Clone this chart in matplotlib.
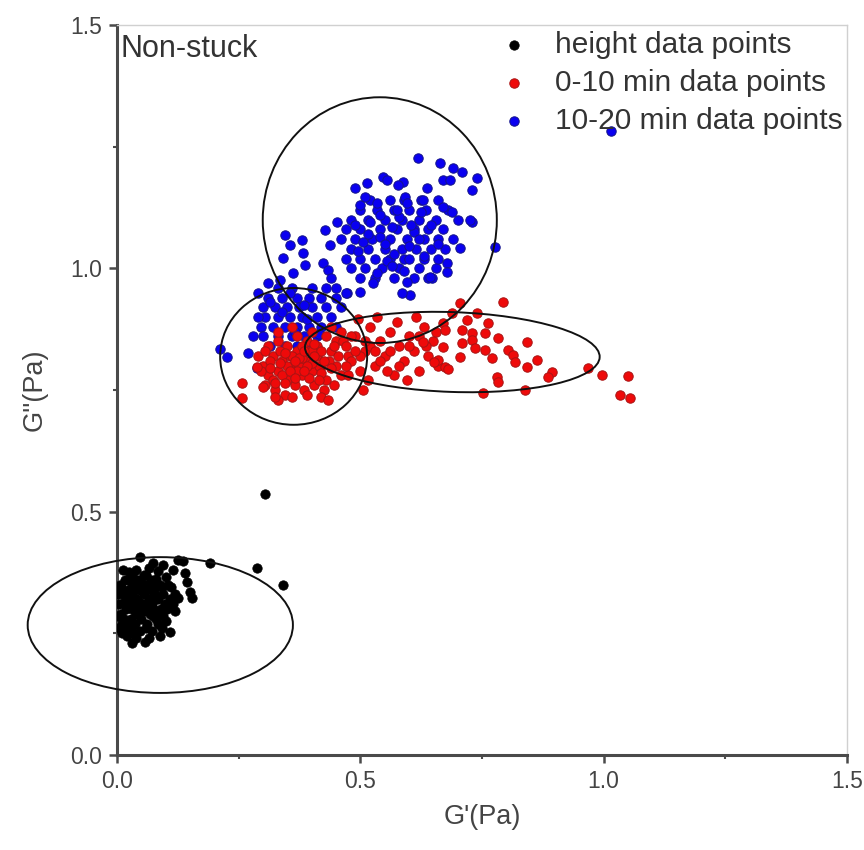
import numpy as np
import matplotlib
matplotlib.use("Agg")
import matplotlib.pyplot as plt
from matplotlib.patches import Ellipse

plt.rcParams['font.family'] = ['Liberation Sans', 'DejaVu Sans']

# height measurements: G' and G'' in Pa
black_gp = [0.047, 0.074, 0.095, 0.125, 0.135, 0.191, 0.288, 0.341, 0.140, 0.144, 0.150, 0.154,
            0.125, 0.109, 0.058, 0.304, 0.065, 0.085, 0.060, 0.080, 0.100, 0.115, 0.105, 0.120,
            0.005, 0.010, 0.008, 0.004, 0.012, 0.006, 0.015, 0.018, 0.020, 0.022, 0.016, 0.025,
            0.028, 0.030, 0.032, 0.027, 0.035, 0.030, 0.038, 0.040, 0.042, 0.045, 0.048, 0.043,
            0.050, 0.053, 0.055, 0.058, 0.060, 0.062, 0.065, 0.068, 0.070, 0.072, 0.075, 0.078,
            0.080, 0.085, 0.088, 0.090, 0.095, 0.098, 0.102, 0.108, 0.010, 0.020, 0.035, 0.048,
            0.012, 0.024, 0.040, 0.055, 0.070, 0.015, 0.025, 0.035, 0.045, 0.055, 0.065, 0.075,
            0.085, 0.092, 0.100, 0.060, 0.072, 0.082, 0.002, 0.003, 0.008, 0.018, 0.028, 0.038,
            0.050, 0.062, 0.078, 0.092, 0.110, 0.115, 0.120, 0.095, 0.040, 0.030, 0.066, 0.088]
black_gpp = [0.407, 0.394, 0.390, 0.400, 0.398, 0.395, 0.384, 0.349, 0.374, 0.356, 0.335, 0.322,
             0.322, 0.253, 0.232, 0.536, 0.385, 0.378, 0.370, 0.362, 0.365, 0.380, 0.350, 0.330,
             0.260, 0.270, 0.290, 0.310, 0.330, 0.350, 0.280, 0.300, 0.320, 0.340, 0.360, 0.260,
             0.280, 0.300, 0.310, 0.330, 0.350, 0.370, 0.270, 0.290, 0.320, 0.300, 0.340, 0.360,
             0.280, 0.310, 0.330, 0.300, 0.350, 0.270, 0.320, 0.290, 0.340, 0.310, 0.300, 0.330,
             0.280, 0.320, 0.350, 0.300, 0.330, 0.310, 0.300, 0.320, 0.250, 0.245, 0.250, 0.255,
             0.380, 0.375, 0.380, 0.370, 0.360, 0.315, 0.305, 0.320, 0.315, 0.295, 0.305, 0.285,
             0.270, 0.260, 0.275, 0.260, 0.255, 0.295, 0.285, 0.330, 0.345, 0.265, 0.355, 0.340,
             0.355, 0.345, 0.345, 0.345, 0.345, 0.310, 0.295, 0.285, 0.240, 0.230, 0.240, 0.245]

# 0-10 min measurements
red_gp = [0.30, 0.31, 0.32, 0.33, 0.34, 0.35, 0.36, 0.37, 0.38, 0.39, 0.40, 0.41, 0.42, 0.43, 0.44,
          0.45, 0.46, 0.305, 0.325, 0.345, 0.365, 0.385, 0.405, 0.425, 0.445, 0.31, 0.33, 0.35,
          0.37, 0.39, 0.41, 0.43, 0.45, 0.29, 0.295, 0.315, 0.335, 0.355, 0.375, 0.395, 0.415,
          0.435, 0.455, 0.32, 0.34, 0.36, 0.38, 0.40, 0.42, 0.44, 0.35, 0.37, 0.39, 0.36, 0.38,
          0.40, 0.42, 0.33, 0.36, 0.39, 0.42, 0.36, 0.40, 0.44, 0.33,
          0.257, 0.300, 0.325, 0.434, 0.288, 0.505, 0.257,
          0.315, 0.335, 0.355, 0.375, 0.395, 0.415, 0.345, 0.365, 0.385, 0.405, 0.325, 0.345,
          0.365, 0.385, 0.405, 0.425, 0.305, 0.445, 0.465, 0.475,
          0.47, 0.48, 0.49, 0.50, 0.51, 0.52, 0.53, 0.54, 0.55, 0.56, 0.57, 0.58, 0.59, 0.60,
          0.61, 0.62, 0.63, 0.64, 0.65, 0.66, 0.475, 0.495, 0.515, 0.535, 0.555, 0.575, 0.595,
          0.615, 0.635, 0.655, 0.48, 0.50, 0.52, 0.54, 0.56, 0.58, 0.60, 0.62, 0.46, 0.47, 0.49,
          0.51, 0.53,
          0.705, 0.793, 0.688, 0.740, 0.670, 0.719, 0.762, 0.674, 0.709, 0.729, 0.756, 0.783,
          0.629, 0.729, 0.709, 0.842, 0.670, 0.736, 0.756, 0.803, 0.814, 0.770, 0.705, 0.660,
          0.652, 0.674, 0.681, 0.818, 0.863, 0.842, 0.894, 0.886, 0.781, 0.783, 0.968, 0.997,
          1.050, 1.034, 1.054, 0.752, 0.838]
red_gpp = [0.80, 0.78, 0.82, 0.79, 0.81, 0.77, 0.80, 0.83, 0.78, 0.81, 0.79, 0.82, 0.80, 0.77, 0.83,
           0.80, 0.78, 0.76, 0.75, 0.74, 0.76, 0.75, 0.76, 0.75, 0.76, 0.84, 0.85, 0.84,
           0.86, 0.85, 0.84, 0.86, 0.85, 0.82, 0.79, 0.81, 0.83, 0.82, 0.80, 0.83, 0.80,
           0.81, 0.82, 0.77, 0.78, 0.79, 0.815, 0.805, 0.785, 0.795, 0.80, 0.79, 0.80, 0.82, 0.84,
           0.83, 0.83, 0.73, 0.735, 0.74, 0.735, 0.88, 0.87, 0.88, 0.87,
           0.734, 0.756, 0.736, 0.729, 0.797, 0.750, 0.765,
           0.795, 0.805, 0.79, 0.815, 0.775, 0.77, 0.765, 0.775, 0.79, 0.82, 0.765, 0.825,
           0.81, 0.83, 0.845, 0.81, 0.83, 0.84, 0.85, 0.82,
           0.84, 0.81, 0.86, 0.79, 0.83, 0.88, 0.80, 0.85, 0.82, 0.87, 0.78, 0.84, 0.81, 0.86,
           0.83, 0.79, 0.88, 0.82, 0.85, 0.80, 0.78, 0.895, 0.77, 0.90, 0.79, 0.89, 0.77,
           0.90, 0.84, 0.87, 0.86, 0.82, 0.84, 0.81, 0.83, 0.80, 0.84, 0.86, 0.87, 0.80, 0.83,
           0.85, 0.83,
           0.929, 0.931, 0.908, 0.908, 0.888, 0.894, 0.888, 0.873, 0.873, 0.867, 0.867, 0.857,
           0.849, 0.853, 0.846, 0.849, 0.838, 0.836, 0.832, 0.832, 0.822, 0.816, 0.818, 0.812,
           0.808, 0.797, 0.794, 0.808, 0.812, 0.797, 0.787, 0.777, 0.777, 0.767, 0.795, 0.781,
           0.779, 0.740, 0.733, 0.744, 0.750]

# 10-20 min measurements
blue_gp = [0.50, 0.53, 0.57, 0.61, 0.64,
           0.48, 0.51, 0.545, 0.58, 0.62, 0.655,
           0.47, 0.50, 0.53, 0.56, 0.59, 0.63, 0.66,
           0.48, 0.515, 0.55, 0.585, 0.615, 0.645, 0.675,
           0.46, 0.49, 0.525, 0.56, 0.595, 0.63, 0.66, 0.69,
           0.47, 0.50, 0.54, 0.575, 0.61, 0.64, 0.67,
           0.48, 0.515, 0.55, 0.585, 0.62, 0.655, 0.70,
           0.50, 0.535, 0.57, 0.60, 0.635, 0.68,
           0.52, 0.56, 0.59, 0.625, 0.66,
           0.495, 0.54, 0.565, 0.60, 0.63, 0.52, 0.58, 0.61, 0.555, 0.645, 0.505, 0.59, 0.535,
           0.57, 0.62, 0.515, 0.55, 0.605, 0.575, 0.54, 0.625, 0.49, 0.66, 0.565, 0.60,
           0.618, 0.664, 0.690, 0.709, 0.740, 0.547, 0.555, 0.588, 0.577, 0.514, 0.489, 0.637,
           0.670, 0.684, 0.729, 0.510, 0.592, 0.534, 0.596, 0.629, 0.670, 0.688, 0.499, 0.452,
           0.729, 0.427, 0.345, 0.380, 0.355, 0.438, 0.341, 0.382, 0.423, 0.386, 0.434, 0.362,
           0.705, 0.678, 0.647, 0.596, 0.602, 0.586, 0.526, 0.473, 0.499, 0.777, 0.678, 0.725,
           0.643, 1.015,
           0.33, 0.36, 0.40, 0.43,
           0.31, 0.34, 0.37, 0.395, 0.42, 0.45,
           0.30, 0.325, 0.35, 0.375, 0.40, 0.43, 0.46,
           0.305, 0.33, 0.355, 0.38, 0.41, 0.44,
           0.295, 0.32, 0.345, 0.37, 0.395, 0.42, 0.45,
           0.30, 0.33, 0.36, 0.385, 0.41,
           0.315, 0.345, 0.37, 0.40,
           0.315, 0.34, 0.365, 0.39, 0.415, 0.355, 0.385, 0.335,
           0.212, 0.226, 0.269, 0.288, 0.28, 0.29, 0.45, 0.47, 0.44, 0.31, 0.29]
blue_gpp = [0.98, 0.98, 0.98, 0.98, 0.98,
            1.00, 1.00, 1.00, 1.00, 1.00, 1.00,
            1.02, 1.02, 1.02, 1.02, 1.02, 1.02, 1.02,
            1.04, 1.04, 1.04, 1.04, 1.04, 1.04, 1.04,
            1.06, 1.06, 1.06, 1.06, 1.06, 1.06, 1.06, 1.06,
            1.08, 1.08, 1.08, 1.08, 1.08, 1.08, 1.08,
            1.10, 1.10, 1.10, 1.10, 1.10, 1.10, 1.10,
            1.12, 1.12, 1.12, 1.12, 1.12, 1.12,
            1.14, 1.14, 1.14, 1.14, 1.14,
            1.035, 1.065, 1.085, 1.045, 1.025, 1.095, 1.105, 1.075, 1.015, 1.09, 1.055, 0.995, 0.99,
            1.03, 1.06, 1.07, 1.05, 1.09, 1.12, 1.11, 1.115, 1.09, 1.05, 1.005, 1.02,
            1.227, 1.216, 1.206, 1.198, 1.186, 1.188, 1.181, 1.177, 1.171, 1.175, 1.165, 1.165,
            1.181, 1.181, 1.161, 1.147, 1.147, 1.134, 1.134, 1.140, 1.126, 1.116, 1.130, 1.095,
            1.095, 1.079, 1.068, 1.058, 1.048, 1.048, 1.021, 1.031, 1.011, 1.007, 0.997, 0.990,
            1.042, 1.011, 0.980, 0.972, 0.945, 0.949, 0.970, 0.949, 0.951, 1.044, 0.992, 1.099,
            0.982, 1.282,
            0.96, 0.96, 0.96, 0.96,
            0.94, 0.94, 0.94, 0.94, 0.94, 0.94,
            0.92, 0.92, 0.92, 0.92, 0.92, 0.92, 0.92,
            0.90, 0.90, 0.90, 0.90, 0.90, 0.90,
            0.88, 0.88, 0.88, 0.88, 0.88, 0.88, 0.88,
            0.86, 0.86, 0.86, 0.86, 0.86,
            0.84, 0.84, 0.84, 0.84,
            0.93, 0.91, 0.87, 0.895, 0.865, 0.95, 0.925, 0.975,
            0.834, 0.818, 0.826, 0.795, 0.86, 0.90, 0.96, 0.95, 0.98, 0.97, 0.95]

# grouping ellipses: centre G', centre G'', width, height, angle
ell_cx = [0.089, 0.363, 0.689, 0.540]
ell_cy = [0.267, 0.819, 0.828, 1.099]
ell_w = [0.545, 0.302, 0.606, 0.481]
ell_h = [0.279, 0.281, 0.164, 0.505]
ell_ang = [0, 0, -2, 0]

fig = plt.figure(figsize=(8.64, 8.5), dpi=100)
ax = fig.add_axes([0.1354, 0.1118, 0.8449, 0.8588])

ms = 46
h_black = ax.scatter(black_gp, black_gpp, s=ms, c='black', edgecolors='black', lw=0.5,
                     label='height data points', zorder=3)
h_blue = ax.scatter(blue_gp, blue_gpp, s=ms, c='#0a00f0', edgecolors='#14148a', lw=0.7,
                    label='10-20 min data points', zorder=3)
h_red = ax.scatter(red_gp, red_gpp, s=ms, c='#ee0a0a', edgecolors='#a81414', lw=0.7,
                   label='0-10 min data points', zorder=3)

for cx, cy, w, h, a in zip(ell_cx, ell_cy, ell_w, ell_h, ell_ang):
    ax.add_patch(Ellipse((cx, cy), w, h, angle=a, fill=False, ec='#111111', lw=1.4,
                         clip_on=False, zorder=4))

ax.set_xlim(0, 1.5)
ax.set_ylim(0, 1.5)
ax.set_xticks([0, 0.5, 1.0, 1.5])
ax.set_yticks([0, 0.5, 1.0, 1.5])
ax.set_xticks([0.25, 0.75, 1.25], minor=True)
ax.set_yticks([0.25, 0.75, 1.25], minor=True)
ax.xaxis.set_major_formatter(matplotlib.ticker.FormatStrFormatter('%.1f'))
ax.yaxis.set_major_formatter(matplotlib.ticker.FormatStrFormatter('%.1f'))

for side in ['left', 'bottom']:
    ax.spines[side].set_linewidth(2.2)
    ax.spines[side].set_color('#4a4a4a')
for side in ['top', 'right']:
    ax.spines[side].set_linewidth(1.0)
    ax.spines[side].set_color('#d0d0d0')

ax.tick_params(which='major', direction='out', length=6, width=1.8, color='#4a4a4a',
               labelsize=16.5, labelcolor='#444444', pad=5)
ax.tick_params(which='minor', direction='out', length=3, width=1.5, color='#4a4a4a')

ax.set_xlabel("G'(Pa)", fontsize=19.5, color='#444444', labelpad=8)
ax.set_ylabel("G''(Pa)", fontsize=19.5, color='#444444', labelpad=16)

ax.text(0.005, 0.988, 'Non-stuck', transform=ax.transAxes, ha='left', va='top',
        fontsize=22, color='#333333')

leg = ax.legend(handles=[h_black, h_red, h_blue], loc='upper right',
                bbox_to_anchor=(1.014, 1.012), frameon=False, fontsize=21.5, handletextpad=0.7,
                labelspacing=0.33, borderaxespad=0.1, markerscale=1.0, handlelength=1.3)
for t in leg.get_texts():
    t.set_color('#333333')

fig.savefig('out.png', dpi=100)
